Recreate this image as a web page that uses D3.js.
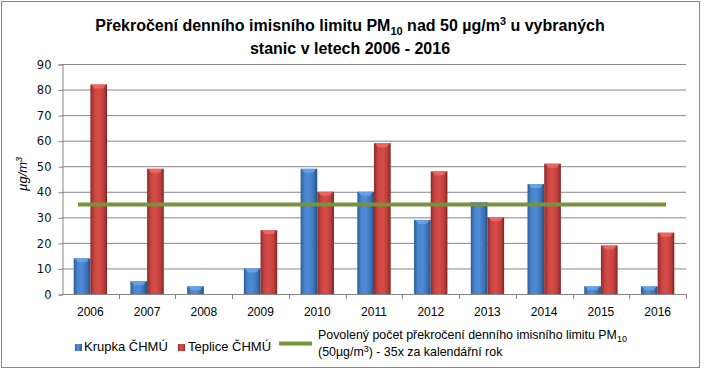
<!DOCTYPE html>
<html>
<head>
<meta charset="utf-8">
<script src="https://cdn.jsdelivr.net/npm/d3@7"></script>
<style>
  body { margin: 0; background: #fff; }
  text { font-family: "Liberation Sans", Arial, sans-serif; fill: #000; }
</style>
</head>
<body>
<div id="chart"></div>
<script>
// data
var years = ["2006","2007","2008","2009","2010","2011","2012","2013","2014","2015","2016"];
var krupka  = [14, 5, 3, 10, 49, 40, 29, 36, 43, 3, 3];
var teplice = [82, 49, 0, 25, 40, 59, 48, 30, 51, 19, 24];
var limit   = [35, 35, 35, 35, 35, 35, 35, 35, 35, 35, 35];
var yTicks  = [0, 10, 20, 30, 40, 50, 60, 70, 80, 90];
var seriesNames = ["Krupka ČHMÚ", "Teplice ČHMÚ"];

var fullWidth = 704, fullHeight = 371;
var margin = {top: 64, right: 18, bottom: 77, left: 62};
var width = fullWidth - margin.left - margin.right;
var height = fullHeight - margin.top - margin.bottom;

var svg = d3.select("#chart").append("svg")
  .attr("width", fullWidth)
  .attr("height", fullHeight);

var defs = svg.append("defs");
function grad(id, stops) {
  var g = defs.append("linearGradient").attr("id", id)
    .attr("x1", "0").attr("x2", "1").attr("y1", "0").attr("y2", "0");
  stops.forEach(function(s) {
    g.append("stop").attr("offset", s[0]).attr("stop-color", s[1]);
  });
}
grad("gBlue", [[0, "#2d5e98"], [0.25, "#4a86cf"], [0.5, "#4f8bd6"], [0.8, "#3c72b6"], [1, "#244f83"]]);
grad("gRed", [[0, "#8f2b29"], [0.25, "#c94643"], [0.5, "#d84c48"], [0.8, "#bd3e3b"], [1, "#7f2523"]]);

// outer border
svg.append("rect")
  .attr("x", 1.5).attr("y", 1.5)
  .attr("width", 698).attr("height", 366)
  .attr("fill", "#fff").attr("stroke", "#868686");

// title
var title = svg.append("text")
  .attr("text-anchor", "middle")
  .style("font-weight", "bold")
  .style("font-size", "16px");
var t1 = title.append("tspan").attr("x", 350).attr("y", 31);
t1.append("tspan").text("Překročení denního imisního limitu PM");
t1.append("tspan").attr("dy", 4).style("font-size", "11px").text("10");
t1.append("tspan").attr("dy", -4).text(" nad 50 µg/m");
t1.append("tspan").attr("dy", -6).style("font-size", "11px").text("3");
t1.append("tspan").attr("dy", 6).text(" u vybraných");
title.append("tspan").attr("x", 350).attr("y", 54).text("stanic v letech 2006 - 2016");

var g = svg.append("g")
  .attr("transform", "translate(" + margin.left + "," + margin.top + ")");

var xScale = d3.scaleBand().domain(years).range([0, width]);
var xInner = d3.scaleBand().domain(seriesNames).range([0, xScale.bandwidth()]).paddingOuter(0.7);
var yScale = d3.scaleLinear().domain([0, 90]).range([height, 0]);
var lineX = d3.scalePoint().domain(years).range([16, width - 20]);

// gridlines
g.append("g").selectAll("line").data(yTicks.filter(function(d) { return d > 0; }))
  .enter().append("line")
  .attr("x1", 0).attr("x2", width)
  .attr("y1", function(d) { return yScale(d) + 0.5; })
  .attr("y2", function(d) { return yScale(d) + 0.5; })
  .attr("stroke", "#868686");

// y axis
var yAxis = d3.axisLeft(yScale).tickValues(yTicks).tickSize(4).tickPadding(7);
var yG = g.append("g").attr("transform", "translate(0.5,0.5)").call(yAxis);
yG.select(".domain").attr("stroke", "#868686");
yG.selectAll(".tick line").attr("stroke", "#868686");
yG.selectAll("text").style("font-family", "'DejaVu Sans', Verdana, sans-serif").style("font-size", "11.5px").style("fill", "#111");

// x axis with ticks between categories
g.append("line")
  .attr("x1", 0).attr("x2", width)
  .attr("y1", height + 0.5).attr("y2", height + 0.5)
  .attr("stroke", "#868686");
g.append("g").selectAll("line").data(years)
  .enter().append("line")
  .attr("x1", function(d) { return Math.round(xScale(d) + xScale.bandwidth()) + 0.5; })
  .attr("x2", function(d) { return Math.round(xScale(d) + xScale.bandwidth()) + 0.5; })
  .attr("y1", height).attr("y2", height + 5)
  .attr("stroke", "#868686");
g.append("g").selectAll("text").data(years)
  .enter().append("text")
  .attr("x", function(d) { return xScale(d) + xScale.bandwidth() / 2; })
  .attr("y", height + 22)
  .attr("text-anchor", "middle")
  .style("font-size", "12px")
  .text(function(d) { return d; });

// bars
var rows = years.map(function(y, i) {
  return [{year: y, s: seriesNames[0], v: krupka[i], fill: "url(#gBlue)", cap: "#6fa6ea"},
          {year: y, s: seriesNames[1], v: teplice[i], fill: "url(#gRed)", cap: "#ef6e6a"}];
});
var bars = g.append("g").selectAll("g").data(d3.merge(rows).filter(function(d) { return d.v > 0; }))
  .enter().append("g");
bars.append("rect")
  .attr("x", function(d) { return xScale(d.year) + xInner(d.s); })
  .attr("y", function(d) { return yScale(d.v); })
  .attr("width", xInner.bandwidth())
  .attr("height", function(d) { return height - yScale(d.v); })
  .attr("fill", function(d) { return d.fill; });
bars.append("path")
  .attr("d", function(d) {
    var x0 = xScale(d.year) + xInner(d.s), w = xInner.bandwidth(), y0 = yScale(d.v);
    return "M" + (x0 + 1) + "," + y0 + "L" + (x0 + w - 1) + "," + y0 +
      "L" + (x0 + w - 4) + "," + (y0 + 4) + "L" + (x0 + 4) + "," + (y0 + 4) + "Z";
  })
  .attr("fill", function(d) { return d.cap; })
  .attr("opacity", 0.8);

// limit line
var line = d3.line()
  .x(function(d, i) { return lineX(years[i]); })
  .y(function(d) { return yScale(d); });
g.append("path").datum(limit)
  .attr("d", line)
  .attr("fill", "none")
  .attr("stroke", "#77933c")
  .attr("stroke-width", 4);

// y axis title
var yt = svg.append("text")
  .attr("transform", "translate(27,174) rotate(-90)")
  .attr("text-anchor", "middle")
  .style("font-style", "italic")
  .style("font-size", "13px");
yt.append("tspan").text("µg/m");
yt.append("tspan").attr("dy", -5).style("font-size", "9px").text("3");

// legend
var leg = svg.append("g");
leg.append("rect").attr("x", 75).attr("y", 344).attr("width", 7).attr("height", 7).attr("fill", "url(#gBlue)");
leg.append("text").attr("x", 84).attr("y", 351).style("font-size", "13px").text(seriesNames[0]);
leg.append("rect").attr("x", 178).attr("y", 344).attr("width", 7).attr("height", 7).attr("fill", "url(#gRed)");
leg.append("text").attr("x", 188).attr("y", 351).style("font-size", "13px").text(seriesNames[1]);
leg.append("line").attr("x1", 279).attr("x2", 312).attr("y1", 343.5).attr("y2", 343.5)
  .attr("stroke", "#77933c").attr("stroke-width", 4);
var lt = leg.append("text").style("font-size", "12.4px");
var l1 = lt.append("tspan").attr("x", 318).attr("y", 339);
l1.append("tspan").text("Povolený počet překročení denního imisního limitu PM");
l1.append("tspan").attr("dy", 3).style("font-size", "9px").text("10");
var l2 = lt.append("tspan").attr("x", 318).attr("y", 356);
l2.append("tspan").text("(50µg/m");
l2.append("tspan").attr("dy", -4).style("font-size", "9px").text("3");
l2.append("tspan").attr("dy", 4).text(") - 35x za kalendářní rok");
</script>
</body>
</html>
